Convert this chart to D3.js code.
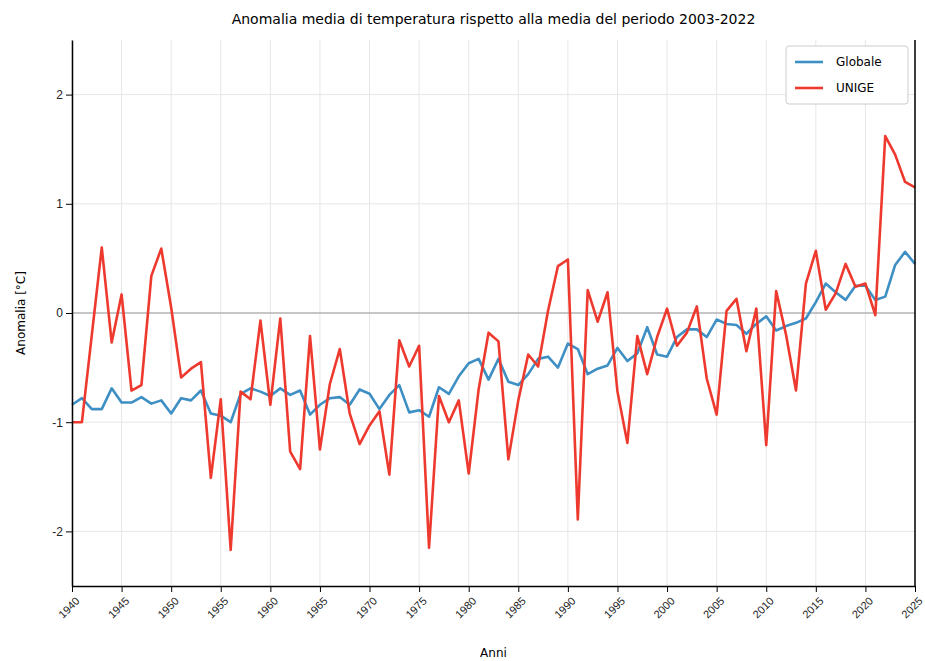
<!DOCTYPE html>
<html>
<head>
<meta charset="utf-8">
<style>
  body { margin: 0; background: #fff; font-family: "DejaVu Sans", sans-serif; }
  .grid line { stroke: #e6e6e6; }
  .axis text { font-size: 12px; fill: #222; }
</style>
</head>
<body>
<script src="https://d3js.org/d3.v7.min.js"></script>
<script>

var width = 925, height = 661;
var margin = {top: 40, right: 10, bottom: 75, left: 72};

var years = d3.range(1940, 2026);
var globale = [-0.84,-0.78,-0.88,-0.88,-0.69,-0.82,-0.82,-0.77,-0.83,-0.80,
  -0.92,-0.78,-0.80,-0.71,-0.92,-0.94,-1.00,-0.74,-0.69,-0.72,
  -0.76,-0.69,-0.75,-0.71,-0.93,-0.84,-0.78,-0.77,-0.84,-0.70,
  -0.74,-0.88,-0.75,-0.66,-0.91,-0.89,-0.95,-0.68,-0.74,-0.58,
  -0.46,-0.42,-0.61,-0.42,-0.63,-0.66,-0.56,-0.42,-0.40,-0.50,
  -0.28,-0.33,-0.56,-0.51,-0.48,-0.32,-0.44,-0.37,-0.13,-0.38,
  -0.40,-0.22,-0.15,-0.15,-0.22,-0.06,-0.10,-0.11,-0.19,-0.10,
  -0.03,-0.16,-0.12,-0.09,-0.05,0.10,0.27,0.19,0.12,0.25,
  0.25,0.12,0.15,0.44,0.56,0.45];
var unige = [-1.00,-1.00,-0.20,0.60,-0.27,0.17,-0.71,-0.66,0.34,0.59,
  0.05,-0.59,-0.51,-0.45,-1.51,-0.79,-2.17,-0.72,-0.79,-0.07,
  -0.84,-0.05,-1.27,-1.43,-0.21,-1.25,-0.65,-0.33,-0.92,-1.20,
  -1.03,-0.90,-1.48,-0.25,-0.49,-0.30,-2.15,-0.76,-1.00,-0.80,
  -1.47,-0.70,-0.18,-0.26,-1.34,-0.80,-0.38,-0.49,0.02,0.43,
  0.49,-1.89,0.21,-0.08,0.19,-0.72,-1.19,-0.21,-0.56,-0.22,
  0.04,-0.30,-0.18,0.06,-0.60,-0.93,0.02,0.13,-0.35,0.04,
  -1.21,0.20,-0.20,-0.71,0.27,0.57,0.03,0.18,0.45,0.24,
  0.27,-0.02,1.62,1.45,1.20,1.15];
var xTicks = d3.range(1940, 2026, 5);
var yTicks = [-2, -1, 0, 1, 2];
var series = [
  {name: "Globale", values: globale, color: "#3e8fc4"},
  {name: "UNIGE", values: unige, color: "#ee3a2e"}
];

var svg = d3.select("body").append("svg")
    .attr("width", width)
    .attr("height", height);

var x = d3.scaleLinear().domain([1940, 2025]).range([margin.left, width - margin.right]);
var y = d3.scaleLinear().domain([-2.5, 2.5]).range([height - margin.bottom, margin.top]);

// grid
svg.append("g").attr("class", "grid")
  .selectAll("line").data(xTicks).enter().append("line")
  .attr("x1", d => x(d)).attr("x2", d => x(d))
  .attr("y1", margin.top).attr("y2", height - margin.bottom);
svg.append("g").attr("class", "grid")
  .selectAll("line").data(yTicks).enter().append("line")
  .attr("x1", margin.left).attr("x2", width - margin.right)
  .attr("y1", d => y(d)).attr("y2", d => y(d));

svg.append("line")
  .attr("x1", margin.left).attr("x2", width - margin.right)
  .attr("y1", y(0)).attr("y2", y(0))
  .attr("stroke", "#999").attr("stroke-width", 1.2);

var line = d3.line().x((d, i) => x(years[i])).y(d => y(d));
series.forEach(function(s){
  svg.append("path").datum(s.values)
    .attr("d", line)
    .attr("fill", "none")
    .attr("stroke", s.color)
    .attr("stroke-width", 2.6)
    .attr("stroke-linejoin", "round");
});

// axes
var xAxis = svg.append("g").attr("class", "axis")
  .attr("transform", "translate(0," + (height - margin.bottom) + ")")
  .call(d3.axisBottom(x).tickValues(xTicks).tickFormat(d3.format("d")).tickSizeOuter(0));
xAxis.selectAll("text")
  .attr("transform", "rotate(-45)")
  .attr("text-anchor", "end")
  .attr("dx", "-0.5em").attr("dy", "0.7em")
  .style("font-size", "11px");
svg.append("g").attr("class", "axis")
  .attr("transform", "translate(" + margin.left + ",0)")
  .call(d3.axisLeft(y).tickValues(yTicks).tickFormat(d => d).tickSizeOuter(0));
svg.selectAll(".axis .domain").attr("stroke", "#000").attr("stroke-width", 1.5);

svg.append("line")
  .attr("x1", width - margin.right).attr("x2", width - margin.right)
  .attr("y1", margin.top).attr("y2", height - margin.bottom)
  .attr("stroke", "#000").attr("stroke-width", 1.5);

svg.append("text").attr("x", (margin.left + width - margin.right) / 2).attr("y", 24)
  .attr("text-anchor", "middle").style("font-size", "14px")
  .text("Anomalia media di temperatura rispetto alla media del periodo 2003-2022");
svg.append("text").attr("x", (margin.left + width - margin.right) / 2).attr("y", 657)
  .attr("text-anchor", "middle").style("font-size", "12px").text("Anni");
svg.append("text")
  .attr("transform", "translate(25," + y(0) + ") rotate(-90)")
  .attr("text-anchor", "middle").style("font-size", "12px").text("Anomalia [°C]");

// legend
var lg = svg.append("g").attr("transform", "translate(786,46)");
lg.append("rect").attr("width", 122).attr("height", 58).attr("rx", 3)
  .attr("fill", "#fff").attr("stroke", "#ccc");
series.forEach(function(s, i){
  var yy = 16 + i * 26;
  lg.append("line").attr("x1", 9).attr("x2", 37).attr("y1", yy).attr("y2", yy)
    .attr("stroke", s.color).attr("stroke-width", 2.6);
  lg.append("text").attr("x", 50).attr("y", yy + 4).style("font-size", "12px").text(s.name);
});

</script>
</body>
</html>
